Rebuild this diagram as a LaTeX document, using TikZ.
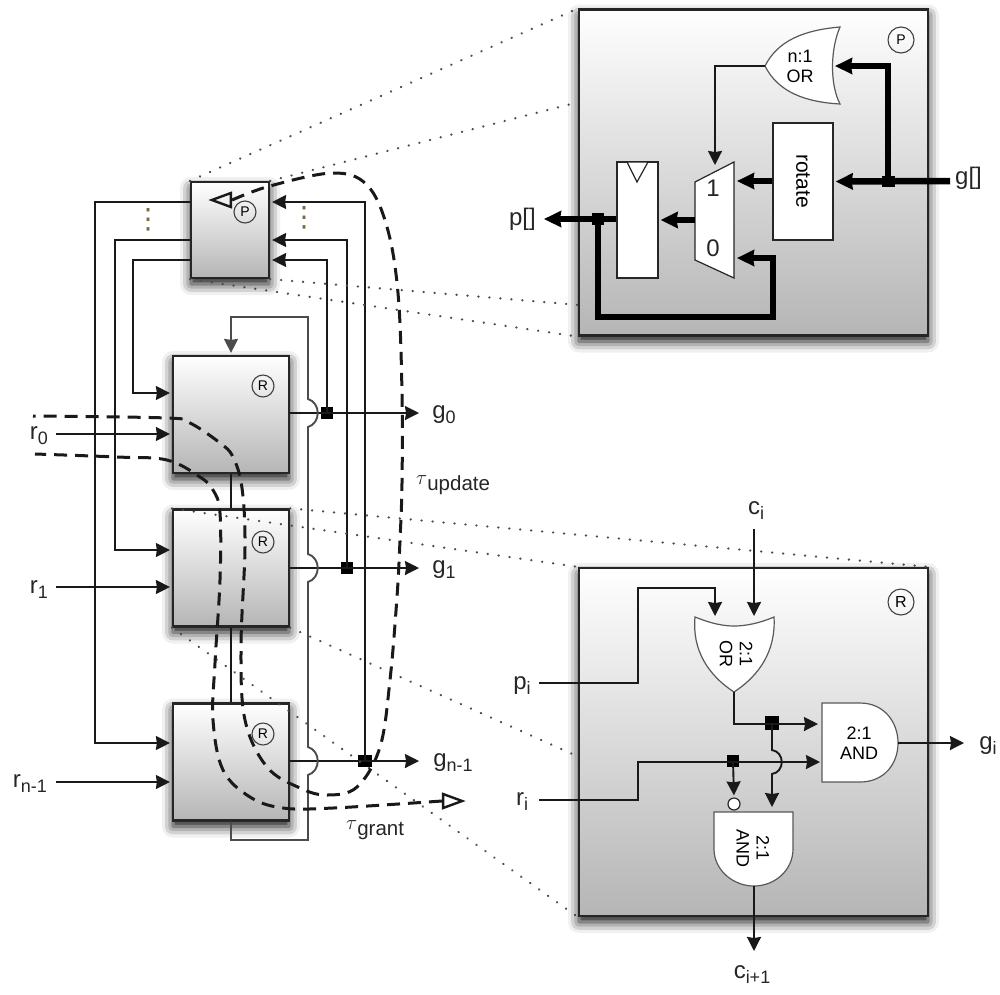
\documentclass[tikz,border=0pt]{standalone}
\usepackage{fontspec}
\setmainfont{Liberation Sans}
\newfontfamily\symfont{DejaVu Sans}
\usepackage{tikz}
\usetikzlibrary{arrows.meta, calc, shapes.geometric, shadows.blur}
\newcommand{\sigsub}[2]{#1\raisebox{-5pt}{\fontsize{18}{18}\selectfont #2}}
\newcommand{\tausub}[1]{$\tau$\raisebox{-6pt}{\fontsize{20.5}{20.5}\selectfont #1}}
\definecolor{dotcolor}{HTML}{7A6A40}
\tikzset{
  blockbox/.style={
    rectangle,
    draw=black!85,
    line width=2.2pt,
    inner sep=0pt,
    top color=white,
    bottom color=black!29,
    blur shadow={shadow xshift=0pt, shadow yshift=-6pt, shadow blur radius=11pt, shadow opacity=95}
  },
  whitebox/.style={
    rectangle,
    draw=black!85,
    fill=white,
    line width=1.2pt,
    inner sep=0pt
  },
  wire/.style={
    line width=1.9pt,
    draw=black!90,
    line join=miter
  },
  wirearrow/.style={
    wire,
    -{Stealth[length=14pt,width=14pt,inset=1pt]},
    shorten >=2pt
  },
  busline/.style={
    line width=6.5pt,
    draw=black,
    line join=miter
  },
  busarrow/.style={
    busline,
    -{Stealth[length=17pt,width=16pt,inset=1pt]},
    shorten >=2pt
  },
  junct/.style={
    rectangle,
    fill=black,
    inner sep=0pt,
    minimum size=12pt
  },
  gateshape/.style={
    fill=white,
    draw=black!65,
    line width=1.2pt
  },
  gatetext/.style={
    font=\fontsize{18}{20}\selectfont,
    align=center,
    inner sep=0pt
  },
  signame/.style={
    font=\fontsize{24}{24}\selectfont,
    text=black!85,
    inner sep=0pt
  },
  cornertag/.style={
    circle,
    draw=black!75,
    line width=1.1pt,
    inner sep=0pt,
    font=\fontsize{14}{14}\selectfont
  },
  dotmark/.style={
    font=\symfont\fontsize{28}{28}\selectfont,
    text=dotcolor,
    inner sep=0pt
  },
  zoomline/.style={
    draw=black!70,
    line width=2.4pt,
    line cap=round,
    dash pattern=on 0.2pt off 10.8pt
  },
  pathdash/.style={
    draw=black!90,
    line width=3pt,
    dash pattern=on 13pt off 8pt
  },
  timetip/.style={
    isosceles triangle,
    isosceles triangle stretches,
    draw=black!90,
    line width=2.4pt,
    inner sep=0pt,
    minimum height=19pt,
    minimum width=14pt
  }
}
\begin{document}
\begin{tikzpicture}[x=1pt, y=-1pt]
  \useasboundingbox (0,0) rectangle (1000,994);

  % zoomed priority block
  \node[blockbox, minimum width=349pt, minimum height=326pt] (bigprio) at (753.5,172.5) {};
  \node[cornertag, minimum size=26pt] (bigptag) at (901,40) {P};
  \path[gateshape] (765,66) .. controls (778,40) and (805,30) .. (840,27)
    .. controls (830,50) and (830,85) .. (840,104)
    .. controls (805,102) and (778,92) .. (765,66) -- cycle;
  \node[gatetext] (orn) at (800,66) {n:1\\OR};
  \coordinate (orntip) at (765,66);
  \coordinate (ornin) at (833,66);
  \node[whitebox, minimum width=60pt, minimum height=117pt] (rotbox) at (803,181.5) {};
  \node[gatetext, font=\fontsize{21}{21}\selectfont, rotate=-90] (rottxt) at (803,181) {rotate};
  \path[gateshape, draw=black!85] (695,182) -- (734,162) -- (734,278) -- (695,260) -- cycle;
  \node[signame] (muxone) at (713,188) {1};
  \node[signame] (muxzero) at (713,248) {0};
  \coordinate (muxone in) at (735,181);
  \coordinate (muxzero in) at (735,258);
  \coordinate (muxsel) at (715,167);
  \coordinate (muxout) at (695,220);
  \node[whitebox, minimum width=41pt, minimum height=116pt] (preg) at (637.5,220) {};
  \path[gateshape, draw=black!85] (627,162) -- (648,162) -- (637,182) -- cycle;
  \node[junct, minimum height=11pt, minimum width=13pt] (gjunct) at (888,181) {};
  \node[junct] (pjunct) at (598,219) {};
  \node[signame, anchor=west] (gall) at (955,178) {g[]};
  \node[signame, anchor=east] (pall) at (536,219) {p[]};
  \coordinate (gstart) at (950,181);
  \coordinate (pend) at (542,219);
  \draw[wirearrow] (orntip) -| (muxsel);
  \draw[busarrow] (gjunct.center) |- (ornin);
  \draw[busarrow] (gstart) -- (rotbox.east);
  \draw[busarrow] (rotbox.west |- muxone in) -- (muxone in);
  \draw[busarrow] (muxout) -- (preg.east |- muxout);
  \draw[busarrow] (preg.west |- pend) -- (pend);
  \draw[busarrow] (pjunct.center) -- (598,317) -- (773,317) -- (773,258) -- (muxzero in);

  % zoomed request block
  \node[blockbox, minimum width=349pt, minimum height=348pt] (bigreq) at (753.5,742) {};
  \node[cornertag, minimum size=26pt, font=\fontsize{16}{16}\selectfont] (bigrtag) at (901,602) {R};
  \path[gateshape] (695,617) .. controls (710,623) and (722,626) .. (734,626)
    .. controls (746,626) and (760,623) .. (774,617)
    .. controls (776,650) and (760,675) .. (734,692)
    .. controls (708,675) and (692,650) .. (695,617) -- cycle;
  \node[gatetext, rotate=-90] (ortwo) at (736,654) {2:1\\OR};
  \path[gateshape] (822,703) -- (860,703) .. controls (884,703) and (898,722) .. (898,743)
    .. controls (898,764) and (884,782) .. (860,782) -- (822,782) -- cycle;
  \node[gatetext] (andg) at (859,743) {2:1\\AND};
  \path[gateshape] (714,812) -- (793,812) -- (793,849) .. controls (793,870) and (775,886) .. (754,886)
    .. controls (733,886) and (714,870) .. (714,849) -- cycle;
  \node[gatetext, rotate=-90] (andc) at (753,848) {2:1\\AND};
  \coordinate (ortwo out) at (734,692);
  \coordinate (andg out) at (898,743);
  \coordinate (andc out) at (754,886);
  \node[signame] (ci) at (756,511) {\sigsub{c}{i}};
  \node[signame] (ciout) at (752,975) {\sigsub{c}{i+1}};
  \node[signame] (pi) at (522,686) {\sigsub{p}{i}};
  \node[signame] (ri) at (522,802) {\sigsub{r}{i}};
  \node[signame] (gi) at (988,746) {\sigsub{g}{i}};
  \node[junct, minimum size=14pt] (orjunct) at (772,723) {};
  \node[junct] (rjunct) at (733,761) {};
  \node[circle, draw=black!85, fill=white, line width=1.2pt, inner sep=0pt, minimum size=12pt] (bubble) at (734,804) {};
  \draw[wirearrow] (754,529) -- (754,618);
  \draw[wirearrow] (539,683) -- (638,683) -- (638,588) -- (715,588) -- (715,618);
  \draw[wirearrow] (ortwo out) |- (820,724);
  \draw[wirearrow] (539,800) -- (638,800) -- (638,762) -- (822,762);
  \draw[wirearrow] (rjunct.center) -- (bubble.north);
  \draw[wirearrow] (orjunct.center) -- (772,750) .. controls (785,752) and (785,772) .. (772,774) -- (772,809);
  \draw[wirearrow] (andg out) -- (966,743);
  \draw[wirearrow] (andc out) -- (754,953);

  % request blocks on the left
  \node[blockbox, minimum width=78pt, minimum height=96pt] (prio) at (230,230) {};
  \node[cornertag, minimum size=22pt] (ptag) at (245,212) {P};
  \foreach \nm/\cy/\ty/\gy/\ry in {req0/414.5/386/413/434, req1/568/542/568/587, reqn/762/734/761/782}{
    \node[blockbox, minimum width=116pt, minimum height=117pt] (\nm) at (231,\cy) {};
    \node[cornertag, minimum size=22pt] (\nm tag) at (263,\ty) {R};
    \coordinate (\nm g) at (\nm.east |- 0,\gy);
    \draw[wirearrow] (56,\ry) -- (\nm.west |- 0,\ry);
  }
  \node[signame] (r0) at (39,436) {\sigsub{r}{0}};
  \node[signame] (r1) at (39,590) {\sigsub{r}{1}};
  \node[signame] (rn) at (30,784) {\sigsub{r}{n-1}};
  \node[signame] (g0) at (444,415) {\sigsub{g}{0}};
  \node[signame] (g1) at (444,570) {\sigsub{g}{1}};
  \node[signame] (gn) at (453,763) {\sigsub{g}{n-1}};
  \node[junct] (g0junct) at (327,413) {};
  \node[junct] (g1junct) at (347,568) {};
  \node[junct, minimum width=14pt] (gnjunct) at (365,761) {};
  \node[dotmark] (ldots) at (148,220) {⋮};
  \node[dotmark] (rdots) at (304,218) {⋮};

  \draw[wirearrow] (prio.west |- 0,202) -- (95,202) |- (reqn.west |- 0,743);
  \draw[wirearrow] (prio.west |- 0,240) -- (115,240) |- (req1.west |- 0,550);
  \draw[wirearrow] (prio.west |- 0,260) -- (133,260) |- (req0.west |- 0,393);
  \draw[wirearrow] (gnjunct.center) |- (prio.east |- 0,202);
  \draw[wirearrow] (g1junct.center) |- (prio.east |- 0,240);
  \draw[wirearrow] (g0junct.center) |- (prio.east |- 0,260);
  \draw[wirearrow] (req0g) -- (421,413);
  \draw[wirearrow] (req1g) -- (421,568);
  \draw[wirearrow] (reqng) -- (421,761);
  \draw[wire] (req0.south) -- (req1.north);
  \draw[wire] (req1.south) -- (reqn.north);
  \draw[wirearrow, draw=black!70] (reqn.south) -- (231,840) -- (308,840) -- (308,775)
    .. controls (321,771) and (321,751) .. (308,747) -- (308,582)
    .. controls (321,578) and (321,558) .. (308,554) -- (308,427)
    .. controls (321,423) and (321,403) .. (308,399) -- (308,317) -- (231,317) -- (req0.north);

  % zoom guides
  \draw[zoomline] (prio.north west) -- (bigprio.north west);
  \draw[zoomline] (prio.north east) -- (579,102);
  \draw[zoomline] (prio.south east) -- (579,305);
  \draw[zoomline] (prio.south west) -- (bigprio.south west);
  \draw[zoomline] (req1.north west) -- (bigreq.north west);
  \draw[zoomline] (req1.north east) -- (bigreq.north east);
  \draw[zoomline] (req1.south east) -- (579,757);
  \draw[zoomline] (req1.south west) -- (bigreq.south west);

  % timing paths
  \node[timetip, shape border rotate=180] (tauup) at (226,200) {};
  \node[timetip] (taugr) at (448,801) {};
  \draw[pathdash] plot[smooth, tension=0.6] coordinates {(tauup.east) (270,186) (333,173) (367,185) (387,227)
    (398,293) (402,393) (402,483) (400,540) (397,597) (390,680) (380,747) (357,787) (327,795)
    (300,788) (267,767) (245,720) (241,647) (245,547) (242,488) (233,457) (220,443) (190,423) (167,418) (33,416)};
  \draw[pathdash] plot[smooth, tension=0.6] coordinates {(taugr.west) (333,808) (283,808) (250,797) (223,770)
    (213,720) (215,663) (220,580) (220,513) (213,490) (200,477) (167,460) (117,457) (35,454)};
  \node[signame, font=\fontsize{22}{22}\selectfont, anchor=west] (tauupd) at (416,485) {\tausub{update}};
  \node[signame, font=\fontsize{22}{22}\selectfont, anchor=west] (taugrn) at (346,830) {\tausub{grant}};
\end{tikzpicture}
\end{document}
